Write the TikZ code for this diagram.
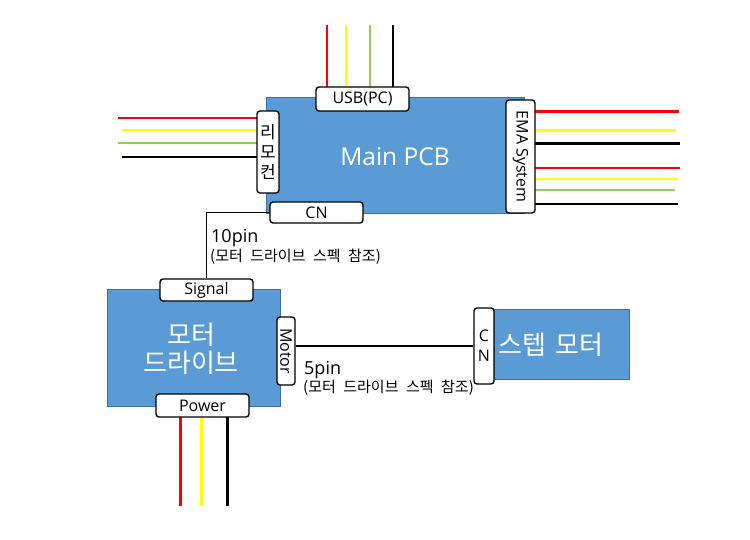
\documentclass[tikz,border=0pt]{standalone}
\usepackage{fontspec}
\setmainfont{Open Sans}
\newfontfamily\kr{Noto Sans CJK KR}
\newcommand{\subfont}{\kr\fontsize{15}{17}\selectfont\spaceskip=7.5pt plus 1pt\relax}
\newcommand{\stepfont}{\kr\fontsize{26}{28}\selectfont\spaceskip=9pt\relax}
\definecolor{boxblue}{HTML}{5B9BD5}
\definecolor{boxedge}{HTML}{41719C}
\definecolor{wgreen}{HTML}{92D050}
\definecolor{wyellow}{HTML}{FFFF00}
\definecolor{wred}{HTML}{FF0000}
\begin{document}
\begin{tikzpicture}[x=1pt,y=-1pt,
  board/.style={draw=boxedge,line width=0.8pt,fill=boxblue,inner sep=0pt,text=white},
  tab/.style={draw=black,line width=1.4pt,fill=white,rounded corners=3pt,inner sep=0pt,font=\fontsize{16}{18}\selectfont},
  thin/.style={line width=1.3pt},
  thick/.style={line width=3pt},
  link/.style={line width=1.2pt,draw=black},
  subnote/.style={anchor=west,inner sep=0pt}]
\useasboundingbox (0,0) rectangle (750,540);
% boards
\node[board,minimum width=258pt,minimum height=116pt] (main) at (395,155) {};
\node[text=white,font=\fontsize{24.5}{26}\selectfont] (maint) at (395,157) {Main PCB};
\node[board,minimum width=173pt,minimum height=117pt] (drv) at (193.5,347.5) {};
\node[text=white,align=center,font=\kr\fontsize{26}{28}\selectfont] (drvt) at (191,349) {모터\\드라이브};
\node[board,minimum width=135pt,minimum height=70pt] (step) at (561.5,344) {};
\node[text=white] (stept) at (551,345) {\stepfont 스텝 모터};
% coordinates for wire ends
\coordinate (u1) at (327,25); \coordinate (u2) at (346,25);
\coordinate (u3) at (370,25); \coordinate (u4) at (393,25);
\coordinate (l1) at (118,118); \coordinate (l2) at (122,130);
\coordinate (l3) at (118,143); \coordinate (l4) at (122,157);
\coordinate (r1) at (679,112); \coordinate (r2) at (676,131);
\coordinate (r3) at (680,144); \coordinate (r4) at (680,168);
\coordinate (r5) at (678,179); \coordinate (r6) at (675,190);
\coordinate (r7) at (678,204);
\coordinate (p1) at (180,506); \coordinate (p2) at (201,506); \coordinate (p3) at (227,506);
% wires (under the tabs)
\draw[thin,wred]    (u1) -- (u1 |- main.north);
\draw[thin,wyellow] (u2) -- (u2 |- main.north);
\draw[thin,wgreen]  (u3) -- (u3 |- main.north);
\draw[thin,black]   (u4) -- (u4 |- main.north);
\draw[thin,wred]    (l1) -- (l1 -| main.west);
\draw[thin,wyellow] (l2) -- (l2 -| main.west);
\draw[thin,wgreen]  (l3) -- (l3 -| main.west);
\draw[thin,black]   (l4) -- (l4 -| main.west);
\draw[thick,wred]    (r1 -| main.east) -- (r1);
\draw[thick,wyellow] (r2 -| main.east) -- (r2);
\draw[thick,black]   (r3 -| main.east) -- (r3);
\draw[thin,wred]     (r4 -| main.east) -- (r4);
\draw[thin,wyellow]  (r5 -| main.east) -- (r5);
\draw[thin,wgreen]   (r6 -| main.east) -- (r6);
\draw[thin,black]    (r7 -| main.east) -- (r7);
\draw[thick,wred]    (p1 |- drv.south) -- (p1);
\draw[thick,wyellow] (p2 |- drv.south) -- (p2);
\draw[thick,black]   (p3 |- drv.south) -- (p3);
% tabs
\node[tab,minimum width=93pt,minimum height=24pt] (usb) at (362.5,99) {USB(PC)};
\node[tab,minimum width=22pt,minimum height=82pt,align=center,font=\kr\fontsize{17}{20}\selectfont] (remote) at (268,152) {리\\모\\컨};
\node[tab,minimum width=93pt,minimum height=21pt] (cn) at (316.5,212.5) {CN};
\node[tab,rotate=-90,minimum width=113pt,minimum height=29pt] (ema) at (520.5,156.5) {EMA System};
\node[tab,minimum width=93pt,minimum height=22pt] (signal) at (206.5,290) {Signal};
\node[tab,rotate=-90,minimum width=68pt,minimum height=18pt] (motor) at (286,351) {Motor};
\node[tab,minimum width=93pt,minimum height=23pt] (power) at (202.5,405.5) {Power};
\node[tab,minimum width=20pt,minimum height=76pt,align=center,font=\fontsize{16}{20}\selectfont] (stepcn) at (484,346) {C\\N};
% links
\draw[link] (cn.west) -| (signal.north);
\draw[link] (motor.north |- stepcn.west) -- (stepcn.west);
% labels
\node[anchor=west,inner sep=0pt,font=\fontsize{18}{20}\selectfont] (pin10) at (211,238) {10pin};
\node[subnote] (pin10s) at (210,257) {\subfont (모터 드라이브 스펙 참조)};
\node[anchor=west,inner sep=0pt,font=\fontsize{18}{20}\selectfont] (pin5) at (304,370) {5pin};
\node[subnote] (pin5s) at (303,388) {\subfont (모터 드라이브 스펙 참조)};
\end{tikzpicture}
\end{document}
